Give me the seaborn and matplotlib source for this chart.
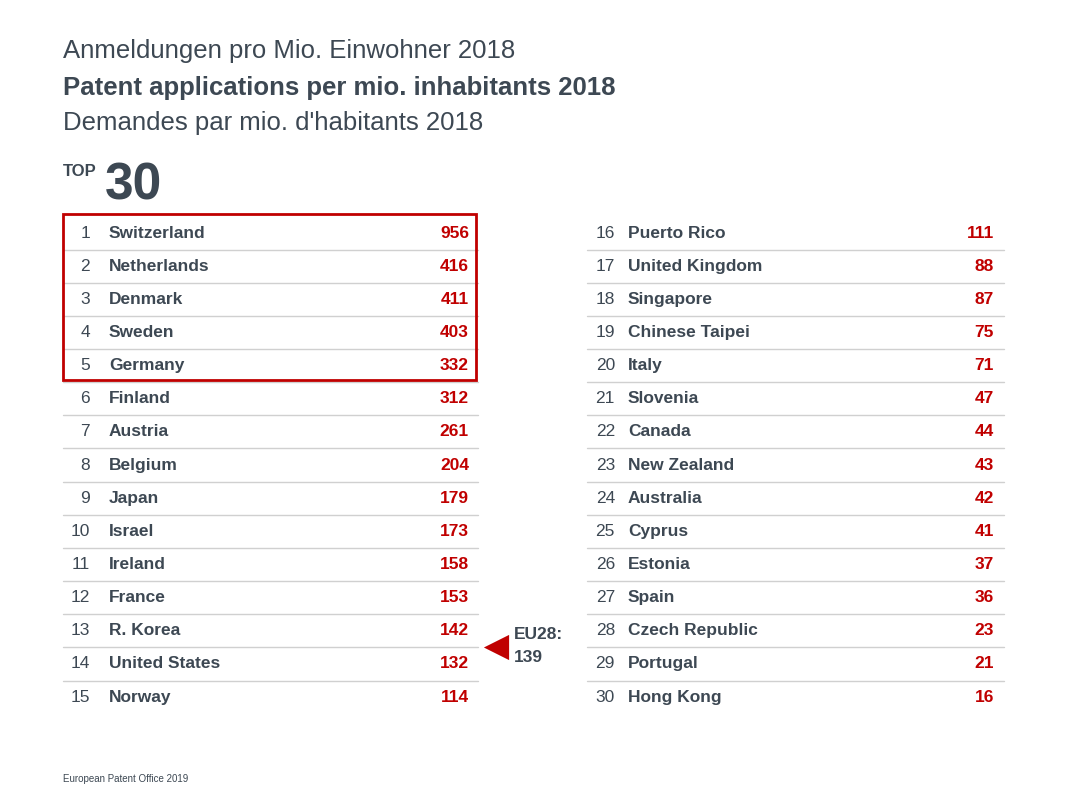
import matplotlib
matplotlib.use("Agg")
import matplotlib.pyplot as plt
import seaborn as sns
from matplotlib.patches import Rectangle

ranks = list(range(1, 31))
countries = ["Switzerland", "Netherlands", "Denmark", "Sweden", "Germany", "Finland", "Austria",
             "Belgium", "Japan", "Israel", "Ireland", "France", "R. Korea", "United States", "Norway",
             "Puerto Rico", "United Kingdom", "Singapore", "Chinese Taipei", "Italy", "Slovenia",
             "Canada", "New Zealand", "Australia", "Cyprus", "Estonia", "Spain", "Czech Republic",
             "Portugal", "Hong Kong"]
values = [956, 416, 411, 403, 332, 312, 261, 204, 179, 173, 158, 153, 142, 132, 114,
          111, 88, 87, 75, 71, 47, 44, 43, 42, 41, 37, 36, 23, 21, 16]
eu28_value = 139

sns.set_theme(style="white", font="Liberation Sans")
fig = plt.figure(figsize=(10.67, 8), dpi=100)
ax = fig.add_axes([0, 0, 1, 1])
ax.set_xlim(0, 1067)
ax.set_ylim(800, 0)
ax.axis("off")

dark = "#3d4853"
red = "#c00000"
ax.text(63, 51, "Anmeldungen pro Mio. Einwohner 2018", fontsize=18.5, color=dark, va="center")
ax.text(63, 88, "Patent applications per mio. inhabitants 2018", fontsize=18.5, color=dark,
        va="center", fontweight="bold")
ax.text(63, 123, "Demandes par mio. d'habitants 2018", fontsize=18.5, color=dark, va="center")
ax.text(63, 172, "TOP", fontsize=12, color=dark, va="center", fontweight="bold")
ax.text(105, 186, "30", fontsize=37, color=dark, va="center", fontweight="bold")
ax.text(63, 779, "European Patent Office 2019", fontsize=7, color=dark, va="center")

step = 33.15
y0 = 233
cols = [dict(x0=63, x1=478, rk=90, nm=109, vl=469), dict(x0=587, x1=1004, rk=615, nm=628, vl=994)]
for i, (r, c, v) in enumerate(zip(ranks, countries, values)):
    col = cols[i // 15]
    j = i % 15
    y = y0 + j * step
    ax.text(col["rk"], y, str(r), fontsize=12.5, color=dark, ha="right", va="center")
    ax.text(col["nm"], y, c, fontsize=12.5, color=dark, ha="left", va="center", fontweight="bold")
    ax.text(col["vl"], y, str(v), fontsize=12.5, color=red, ha="right", va="center", fontweight="bold")
    if j < 14:
        ax.plot([col["x0"], col["x1"]], [y0 + (j + 0.5) * step] * 2, color="#d0d0d0", lw=1)

ax.add_patch(Rectangle((63, 214), 413, 166, fill=False, edgecolor=red, lw=2, zorder=5))
ax.scatter([496], [647], marker="<", s=330, color=red, linewidths=0)
ax.text(514, 646, f"EU28:\n{eu28_value}", fontsize=12.5, color=dark, va="center",
        fontweight="bold", linespacing=1.6)

fig.savefig("out.png", dpi=100)
